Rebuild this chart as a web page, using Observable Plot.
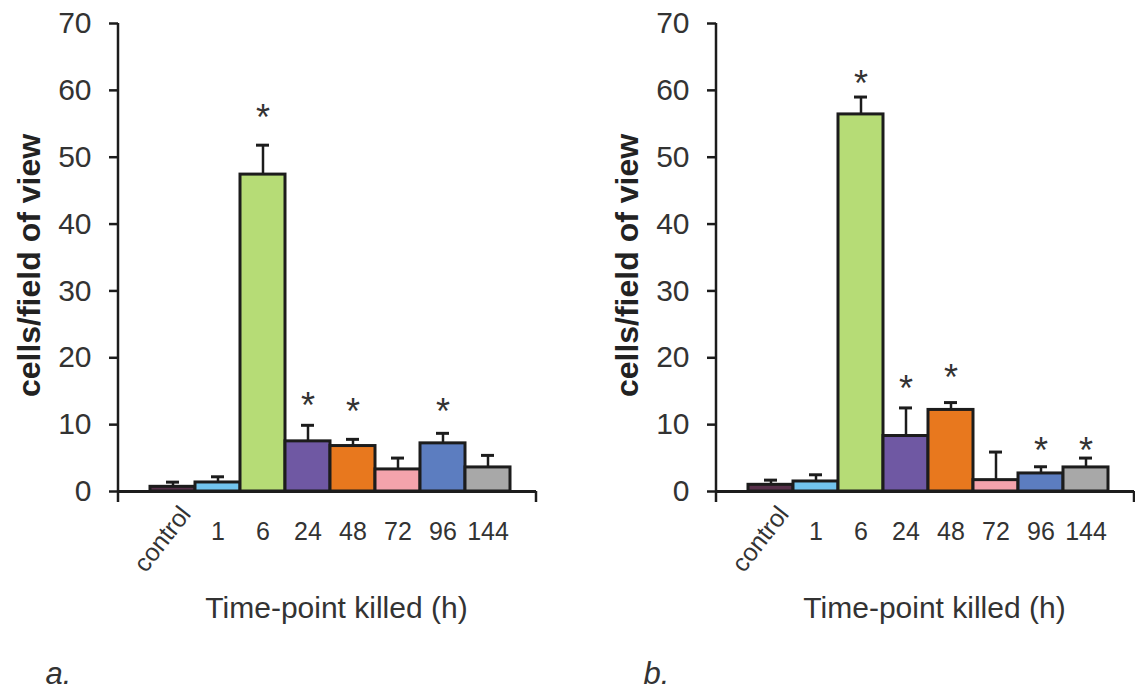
<!DOCTYPE html>
<html>
<head>
<meta charset="utf-8">
<script src="https://cdn.jsdelivr.net/npm/d3@7"></script>
<script src="https://cdn.jsdelivr.net/npm/@observablehq/plot@0.6"></script>
<style>
  html, body { margin: 0; padding: 0; background: #fff; }
  #wrap { position: relative; width: 1135px; height: 691px; overflow: hidden; }
  #wrap svg { position: absolute; top: 0; }
</style>
</head>
<body>
<div id="wrap"></div>
<script>
// ---- data ----
const categories = ["control", "1", "6", "24", "48", "72", "96", "144"];
const barColors = ["#57304a", "#72c4ee", "#b6dc76", "#6f58a3", "#e8781e", "#f4a3ac", "#5c7dc0", "#a8a8a8"];
const yTicks = [0, 10, 20, 30, 40, 50, 60, 70];

// panel a
const meanA = [0.7, 1.35, 47.4, 7.5, 6.8, 3.3, 7.2, 3.6];
const errA  = [0.7, 0.85, 4.4, 2.4, 1.0, 1.7, 1.5, 1.8];
const starA = [null, null, 57.1, 14.1, 13.1, null, 13.1, null];

// panel b
const meanB = [1.0, 1.5, 56.4, 8.3, 12.2, 1.7, 2.7, 3.6];
const errB  = [0.7, 1.0, 2.6, 4.2, 1.1, 4.2, 1.0, 1.4];
const starB = [null, null, 62.3, 16.6, 18.2, null, 7.3, 7.3];

const yTitle = "cells/field of view";
const xTitle = "Time-point killed (h)";
const panelLetters = ["a.", "b."];

// ---- drawing ----
const ink = "#1c1c1c";
const textInk = "#333";
const font = "'Liberation Sans', Arial, Helvetica, sans-serif";

function axisLines(index, scales, values, dims) {
  const {width, height, marginLeft, marginRight, marginTop, marginBottom} = dims;
  const bottom = height - marginBottom;
  const g = d3.create("svg:g").attr("stroke", ink).attr("stroke-width", 2.5).attr("fill", "none");
  g.append("line").attr("x1", marginLeft).attr("x2", marginLeft).attr("y1", marginTop).attr("y2", bottom + 11);
  g.append("line").attr("x1", width - marginRight).attr("x2", width - marginRight).attr("y1", bottom).attr("y2", bottom + 11);
  return g.node();
}

function panel(values, errors, stars, letter) {
  const data = categories.map((c, i) => ({
    c, v: values[i], top: values[i] + errors[i], s: stars[i], color: barColors[i]
  }));
  return Plot.plot({
    width: 556,
    height: 691,
    marginLeft: 118,
    marginRight: 20,
    marginTop: 23,
    marginBottom: 200,
    style: {fontFamily: font, background: "transparent", overflow: "visible"},
    x: {type: "band", domain: categories, paddingInner: 0, paddingOuter: 0.614, align: 0.56, axis: null},
    y: {domain: [0, 70], axis: null},
    color: {type: "identity"},
    marks: [
      Plot.ruleX(data, {x: "c", y1: "v", y2: "top", stroke: ink, strokeWidth: 2.5}),
      Plot.tickY(data, {x: "c", y: "top", insetLeft: 16, insetRight: 16, stroke: ink, strokeWidth: 3}),
      Plot.barY(data, {x: "c", y: "v", fill: "color", stroke: ink, strokeWidth: 3}),
      Plot.ruleY([0], {stroke: ink, strokeWidth: 3}),
      axisLines,
      Plot.axisY({ticks: yTicks, tickSize: 9, tickPadding: 18, fontSize: 30, strokeWidth: 2.5,
                  stroke: ink, fill: textInk, label: null}),
      Plot.axisX({ticks: categories.slice(1), tickSize: 0, tickPadding: 31, fontSize: 25,
                  fill: textInk, label: null}),
      Plot.text([categories[0]], {x: d => d, frameAnchor: "bottom", rotate: -52, textAnchor: "end",
                  lineAnchor: "bottom", dx: 19, dy: 23, fontSize: 25, fill: textInk}),
      Plot.text(data.filter(d => d.s != null), {x: "c", y: "s", text: () => "*", fontSize: 36,
                  dy: 9, fill: textInk}),
      Plot.text([yTitle], {frameAnchor: "left", textAnchor: "middle", rotate: -90, lineAnchor: "bottom",
                  dx: -79, dy: 8, fontWeight: "bold", fontSize: 32, fill: "#222"}),
      Plot.text([xTitle], {frameAnchor: "bottom", textAnchor: "middle", lineAnchor: "bottom", dx: 9, dy: 126,
                  fontSize: 30, fill: textInk}),
      Plot.text([letter], {frameAnchor: "bottom-left", textAnchor: "start", lineAnchor: "bottom",
                  dx: -73, dy: 192, fontSize: 31, fontStyle: "italic", fill: textInk})
    ]
  });
}

const wrap = document.getElementById("wrap");
const svgA = panel(meanA, errA, starA, panelLetters[0]);
svgA.style.left = "0px";
wrap.appendChild(svgA);
const svgB = panel(meanB, errB, starB, panelLetters[1]);
svgB.style.left = "598px";
wrap.appendChild(svgB);
</script>
</body>
</html>
